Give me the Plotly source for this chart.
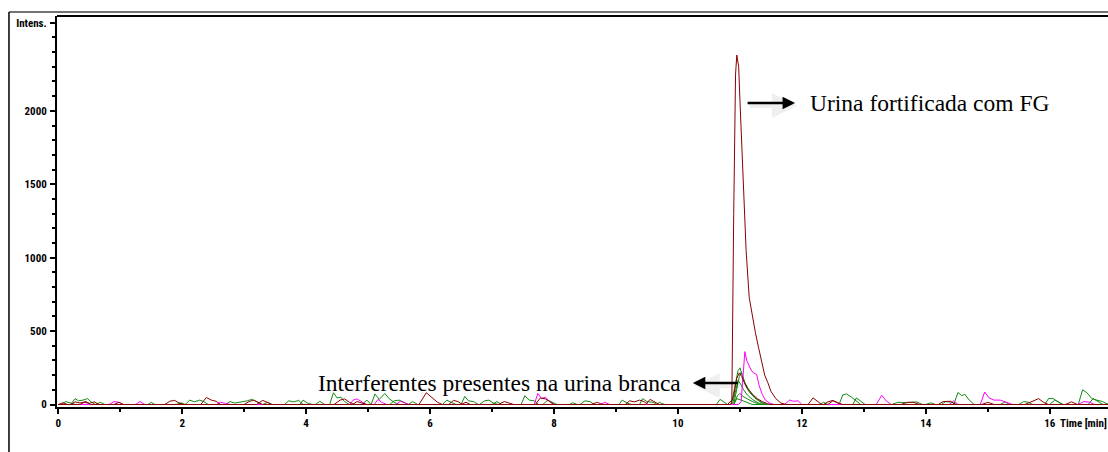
import plotly.graph_objects as go

# ---- Chromatogram traces: retention time (min) and intensity ----

# Fortified urine, FG peak
fg_t = [0.0, 0.08, 0.15, 0.35, 0.42, 0.5, 0.58, 0.66, 1.72, 1.8, 1.88, 1.95, 2.02,
        2.3, 2.39, 2.47, 2.55, 2.62, 3.0, 3.08, 3.15, 3.22, 3.3, 4.45, 4.55, 4.62,
        4.7, 4.78, 5.82, 5.94, 6.02, 6.12, 6.2, 6.3, 6.38, 6.45, 6.52, 7.7, 7.78,
        7.86, 7.93, 8.0, 9.15, 9.22, 9.3, 9.38, 9.45, 9.52,
        10.8, 10.87, 10.9, 10.93, 10.95, 10.98, 11.0, 11.03, 11.06, 11.1, 11.15,
        11.2, 11.25, 11.3, 11.35, 11.4, 11.45, 11.5, 11.58, 11.66, 11.75,
        12.1, 12.18, 12.25, 12.32, 12.42, 12.5, 12.58, 12.65, 14.2, 14.28, 14.4,
        14.48, 15.6, 15.75, 15.82, 15.9, 15.98, 16.95]
fg_v = [0, 12, 0, 0, 15, 8, 18, 0, 0, 22, 28, 10, 0,
        0, 48, 30, 22, 0, 0, 20, 30, 15, 0, 0, 30, 38,
        15, 0, 0, 80, 50, 15, 0, 0, 28, 20, 0, 0, 45,
        38, 20, 0, 0, 25, 18, 30, 20, 0,
        0, 30, 1300, 2250, 2380, 2300, 2080, 1750, 1400, 1050, 730,
        600, 490, 390, 300, 200, 150, 90, 40, 10, 0,
        0, 45, 20, 0, 0, 25, 12, 0, 0, 20, 22,
        0, 0, 30, 40, 15, 0, 0]

# Blank urine, dark red channel
blank_t = [0.0, 0.2, 0.27, 0.35, 0.45, 0.52, 0.9, 0.98, 1.05, 3.2, 3.3, 3.38, 3.45,
           4.75, 4.82, 4.9, 4.98, 6.5, 6.58, 6.65, 7.1, 7.2, 7.28, 7.35, 8.6, 8.7,
           8.78, 9.48, 9.55, 9.62, 9.7,
           10.85, 10.9, 10.95, 10.99, 11.03, 11.08, 11.14, 11.2, 11.28, 11.36, 11.45, 11.5,
           12.35, 12.42, 12.5, 12.58, 12.65, 13.6, 13.7, 13.8, 13.9, 14.9, 15.0, 15.1,
           16.25, 16.35, 16.45, 16.95]
blank_v = [0, 0, 18, 10, 20, 0, 0, 15, 0, 0, 28, 12, 0,
           0, 20, 10, 0, 0, 15, 0, 0, 20, 10, 0, 0, 15,
           0, 0, 35, 20, 0,
           0, 60, 180, 215, 190, 140, 100, 70, 40, 20, 5, 0,
           0, 18, 28, 10, 0, 0, 15, 15, 0, 0, 15, 0,
           0, 18, 0, 0]

# Magenta channel
mag_t = [0.0, 0.82, 0.9, 0.98, 1.05, 1.25, 1.32, 1.4, 2.55, 2.62, 2.7, 2.78,
         4.7, 4.76, 4.82, 4.9, 4.97, 5.1, 5.16, 5.22, 5.3, 5.45, 5.52, 5.6, 5.66,
         7.68, 7.74, 7.8, 7.86, 7.93, 8.0, 8.75, 8.82, 8.9,
         10.98, 11.02, 11.05, 11.08, 11.11, 11.14, 11.18, 11.22, 11.27, 11.31, 11.36,
         11.41, 11.48, 11.55,
         11.72, 11.8, 11.87, 11.94, 12.0, 13.2, 13.29, 13.36, 13.44, 14.38, 14.45,
         14.52, 14.88, 14.95, 15.02, 15.1, 15.2, 15.3, 15.4, 16.45, 16.55, 16.65,
         16.72, 16.95]
mag_v = [0, 0, 20, 15, 0, 0, 20, 0, 0, 15, 8, 0,
         0, 30, 38, 20, 0, 0, 35, 15, 0, 0, 22, 10, 0,
         0, 75, 40, 50, 20, 0, 0, 15, 0,
         0, 20, 200, 360, 300, 270, 235, 215, 205, 130, 70,
         30, 10, 0,
         0, 30, 22, 25, 0, 0, 63, 25, 0, 0, 25,
         0, 0, 85, 45, 30, 30, 15, 0, 0, 20, 15,
         0, 0]

# Green channels
grn_a_t = [0.0, 0.2, 0.27, 0.33, 0.4, 0.47, 0.54, 0.6, 2.05, 2.12, 2.2, 2.28, 2.35,
           2.42, 3.9, 3.95, 4.02, 4.1, 4.38, 4.44, 4.5, 4.56, 4.62, 4.7, 5.05, 5.11,
           5.18, 5.27, 5.34, 5.42, 5.5, 6.5, 6.56, 6.62, 6.7, 6.78, 7.47, 7.53, 7.6,
           7.68, 7.75, 9.38, 9.43, 9.5, 9.6, 9.66,
           10.86, 10.92, 10.97, 11.0, 11.04, 11.08, 11.13, 11.2, 11.28, 11.36, 11.45,
           12.6, 12.66, 12.72, 12.8, 12.88, 12.95, 14.45, 14.52, 14.58, 14.63, 14.7,
           14.78, 15.92, 15.98, 16.05, 16.12, 16.2, 16.46, 16.53, 16.6, 16.68, 16.76,
           16.85, 16.95]
grn_a_v = [0, 0, 40, 25, 30, 40, 15, 0, 0, 30, 18, 30, 20,
           0, 0, 30, 10, 0, 0, 80, 45, 50, 20, 0, 0, 72,
           35, 75, 40, 15, 0, 0, 55, 25, 20, 0, 0, 60, 30,
           25, 0, 0, 40, 20, 15, 0,
           0, 120, 230, 250, 200, 150, 110, 70, 35, 12, 0,
           0, 65, 72, 50, 20, 0, 0, 82, 60, 70, 30,
           0, 0, 40, 42, 20, 0, 0, 100, 80, 40, 30,
           20, 0]

grn_b_t = [0.0, 0.05, 0.12, 0.2, 0.28, 1.45, 1.5, 1.56, 2.7, 2.77, 2.85, 3.05, 3.12,
           3.2, 3.28, 3.65, 3.72, 3.8, 3.88, 3.95, 5.35, 5.42, 5.5, 5.58, 5.65, 6.2,
           6.27, 6.34, 6.42, 6.8, 6.88, 6.95, 7.02, 7.1, 7.82, 7.9, 7.98, 8.05, 8.42,
           8.5, 8.58, 8.65, 9.05, 9.1, 9.18, 9.25,
           10.9, 10.95, 10.99, 11.02, 11.06, 11.1, 11.16, 11.24, 11.32, 11.4,
           13.45, 13.55, 13.7, 13.85, 13.95, 14.25, 14.32, 14.42, 14.5, 15.5, 15.58,
           15.66, 15.72, 16.62, 16.7, 16.78, 16.86, 16.95]
grn_b_v = [0, 0, 20, 10, 0, 0, 15, 0, 0, 20, 10, 25, 35,
           20, 0, 0, 25, 18, 28, 0, 0, 25, 30, 15, 0, 0,
           30, 15, 0, 0, 25, 30, 10, 0, 0, 30, 15, 0, 0,
           25, 20, 0, 0, 30, 10, 0,
           0, 100, 190, 220, 170, 120, 80, 45, 20, 0,
           0, 15, 12, 18, 0, 0, 20, 15, 0, 0, 20,
           15, 0, 0, 40, 20, 0, 0]

grn_c_t = [0.0, 0.6, 0.68, 0.75, 1.9, 1.98, 2.05, 3.3, 3.38, 3.45, 4.15, 4.22, 4.3,
           4.9, 4.98, 5.05, 5.65, 5.72, 5.8, 7.0, 7.08, 7.15, 8.25, 8.3, 8.38, 9.65,
           9.7, 9.78,
           10.88, 10.93, 10.97, 11.01, 11.06, 11.12, 11.2, 11.3, 11.38,
           12.28, 12.35, 12.42, 12.82, 12.88, 12.95, 13.02, 14.0, 14.08, 14.15, 15.2,
           15.28, 15.35, 16.0, 16.08, 16.15, 16.22, 16.95]
grn_c_v = [0, 0, 15, 0, 0, 12, 0, 0, 15, 0, 0, 22, 0,
           0, 30, 0, 0, 20, 0, 0, 20, 0, 0, 12, 0, 0,
           15, 0,
           0, 100, 165, 140, 100, 65, 35, 10, 0,
           0, 15, 0, 0, 45, 20, 0, 0, 12, 0, 0,
           18, 0, 0, 30, 15, 0, 0]

grn_d_t = [0.0, 10.9, 10.96, 11.0, 11.05, 11.12, 11.2, 11.3, 11.35, 16.95]
grn_d_v = [0, 0, 60, 75, 55, 40, 20, 5, 0, 0]

grn_e_t = [0.0, 10.62, 10.68, 10.74, 10.8, 10.9, 10.95, 11.02, 11.1, 11.2, 16.95]
grn_e_v = [0, 0, 35, 15, 0, 0, 40, 30, 15, 0, 0]

# ---- Axis ticks ----
x_tick_vals = [0, 2, 4, 6, 8, 10, 12, 14, 16]
y_tick_vals = [0, 500, 1000, 1500, 2000, 2600]
y_tick_text = ["0", "500", "1000", "1500", "2000", "Intens."]

GREEN = "#138a13"
MAGENTA = "#ff00ff"
MAROON = "#8b0000"

fig = go.Figure()

series = [
    (grn_e_t, grn_e_v, GREEN),
    (grn_d_t, grn_d_v, GREEN),
    (grn_c_t, grn_c_v, GREEN),
    (grn_b_t, grn_b_v, GREEN),
    (grn_a_t, grn_a_v, GREEN),
    (mag_t, mag_v, MAGENTA),
    (blank_t, blank_v, MAROON),
    (fg_t, fg_v, MAROON),
]
for t, v, c in series:
    fig.add_trace(go.Scatter(x=t, y=v, mode="lines",
                             line=dict(color=c, width=1),
                             hoverinfo="skip", showlegend=False))

tick_font = dict(family="Liberation Sans Narrow, Arial Narrow, Roboto Condensed, Liberation Sans, sans-serif",
                 size=11, color="black", weight="bold")
serif = dict(family="Liberation Serif, Times New Roman, serif", size=23.5, color="black")

fig.update_layout(
    width=1108, height=452,
    margin=dict(l=57, r=0, t=16, b=45),
    paper_bgcolor="white", plot_bgcolor="white",
    xaxis=dict(range=[-0.02, 16.94], showgrid=False, zeroline=False,
               showline=True, linecolor="black", linewidth=2,
               tickvals=x_tick_vals, ticks="outside", ticklen=5, tickwidth=1.5,
               tickcolor="black", tickfont=tick_font,
               minor=dict(dtick=1, tick0=1, ticks="outside", ticklen=3,
                          tickwidth=1.5, tickcolor="black")),
    yaxis=dict(range=[-17, 2646], showgrid=False, zeroline=False,
               showline=True, linecolor="black", linewidth=2,
               tickvals=y_tick_vals, ticktext=y_tick_text, ticks="outside",
               ticklen=5, tickwidth=1.5, tickcolor="black", tickfont=tick_font,
               ticklabelstandoff=1,
               minor=dict(dtick=100, tick0=0, ticks="outside", ticklen=3,
                          tickwidth=1.5, tickcolor="black")),
)

# plot box top edge and the outer frame
fig.add_shape(type="line", xref="paper", yref="paper", x0=0, x1=1, y0=1, y1=1,
              line=dict(color="black", width=2))
fig.add_shape(type="line", xref="paper", yref="paper", x0=-0.0457, x1=1.0, y0=1.0102, y1=1.0102,
              line=dict(color="#444444", width=1.5))
fig.add_shape(type="line", xref="paper", yref="paper", x0=-0.0457, x1=-0.0457, y0=1.0102, y1=-0.2,
              line=dict(color="black", width=1.5))

# axis title at the end of the time axis
fig.add_annotation(text="Time [min]", xref="x", x=16.13, xanchor="left",
                   yref="paper", y=-0.041, yanchor="middle", showarrow=False,
                   font=tick_font)

# labels with arrows
fig.add_annotation(text="Urina fortificada com FG", xref="x", yref="y",
                   x=12.1, y=2054, xanchor="left", yanchor="middle",
                   showarrow=False, font=serif)
fig.add_annotation(text="Interferentes presentes na urina branca", xref="x", yref="y",
                   x=10.08, y=146, xanchor="right", yanchor="middle",
                   showarrow=False, font=serif)
for (hx, tx, yy) in [(11.89, 11.10, 2054), (10.24, 10.99, 146)]:
    # faint shadow under the arrow
    fig.add_annotation(text="", xref="x", yref="y", axref="x", ayref="y",
                       x=hx + 0.03, y=yy - 18, ax=tx + 0.03, ay=yy - 18, showarrow=True,
                       arrowhead=2, arrowsize=1, arrowwidth=5,
                       arrowcolor="rgba(0,0,0,0.06)")
    fig.add_annotation(text="", xref="x", yref="y", axref="x", ayref="y",
                       x=hx, y=yy, ax=tx, ay=yy, showarrow=True,
                       arrowhead=2, arrowsize=1, arrowwidth=2.5, arrowcolor="black")

fig.write_html("out.html")
